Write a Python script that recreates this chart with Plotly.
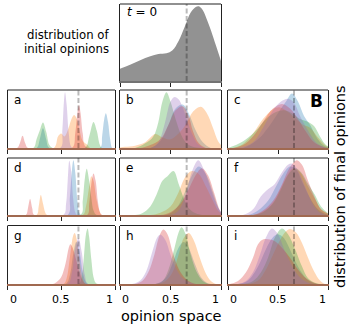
import plotly.graph_objects as go

W, H = 349, 324

# ---------------- data (heights as fraction of panel height) ----------------
INIT_X = [0.0, 0.1, 0.2, 0.3, 0.38, 0.46, 0.52, 0.58, 0.64, 0.70, 0.75, 0.78, 0.82, 0.86, 0.9, 0.95, 1.0]
INIT_Y = [0.16, 0.21, 0.27, 0.32, 0.35, 0.36, 0.40, 0.52, 0.70, 0.89, 0.96, 0.97, 0.92, 0.80, 0.66, 0.46, 0.26]

PANEL_A = [
    ("blue", [0, 0.27, 0.30, 0.33, 0.36, 0.39, 0.86, 0.88, 0.90, 0.915, 0.935, 0.955, 0.975, 1],
             [0, 0, 0.15, 0.34, 0.15, 0, 0, 0.2, 0.5, 0.6, 0.45, 0.15, 0, 0]),
    ("orange", [0, 0.43, 0.47, 0.50, 0.53, 0.56, 0.60, 0.62, 0.645, 0.67, 0.70, 0.74, 0.77, 1],
               [0, 0, 0.2, 0.25, 0.2, 0.3, 0.52, 0.57, 0.5, 0.3, 0.12, 0.06, 0, 0]),
    ("green", [0, 0.24, 0.27, 0.30, 0.33, 0.36, 0.39, 0.42, 0.72, 0.76, 0.80, 0.83, 0.86, 0.88, 1],
              [0, 0, 0.15, 0.3, 0.44, 0.28, 0.05, 0, 0, 0.2, 0.45, 0.3, 0.05, 0, 0]),
    ("red", [0, 0.09, 0.115, 0.14, 0.165, 0.19, 0.60, 0.63, 0.65, 0.665, 0.68, 0.70, 0.73, 1],
            [0, 0, 0.08, 0.21, 0.08, 0, 0, 0.25, 0.6, 0.74, 0.6, 0.25, 0.02, 0]),
    ("purple", [0, 0.49, 0.51, 0.525, 0.535, 0.55, 0.57, 0.59, 0.61, 1],
               [0, 0, 0.3, 0.8, 0.96, 0.75, 0.25, 0.03, 0, 0]),
]
PANEL_B = [
    ("blue", [0, 0.3, 0.4, 0.48, 0.55, 0.62, 0.68, 0.75, 0.82, 0.9, 1],
             [0, 0, 0.12, 0.4, 0.68, 0.75, 0.6, 0.3, 0.1, 0, 0]),
    ("orange", [0, 0.05, 0.15, 0.25, 0.35, 0.42, 0.5, 0.58, 0.65, 0.72, 0.80, 0.86, 0.92, 0.97, 1],
               [0.01, 0.02, 0.04, 0.1, 0.24, 0.18, 0.15, 0.25, 0.4, 0.62, 0.71, 0.6, 0.35, 0.12, 0.05]),
    ("green", [0, 0.15, 0.25, 0.33, 0.38, 0.42, 0.46, 0.50, 0.55, 0.60, 0.65, 0.72, 0.8, 1],
              [0, 0, 0.08, 0.2, 0.45, 0.8, 0.96, 0.8, 0.5, 0.25, 0.1, 0.02, 0, 0]),
    ("red", [0, 0.2, 0.3, 0.4, 0.48, 0.55, 0.62, 0.68, 0.72, 0.78, 0.85, 1],
            [0, 0, 0.05, 0.15, 0.4, 0.65, 0.72, 0.55, 0.3, 0.08, 0, 0]),
    ("purple", [0, 0.3, 0.38, 0.44, 0.50, 0.54, 0.58, 0.62, 0.67, 0.72, 0.77, 0.84, 1],
               [0, 0, 0.1, 0.4, 0.8, 0.88, 0.84, 0.7, 0.45, 0.22, 0.07, 0, 0]),
]
PANEL_C = [
    ("blue", [0, 0.15, 0.3, 0.4, 0.5, 0.58, 0.64, 0.7, 0.76, 0.82, 0.88, 0.95, 1],
             [0, 0, 0.15, 0.35, 0.6, 0.8, 0.94, 0.8, 0.55, 0.4, 0.2, 0.05, 0.01]),
    ("orange", [0, 0.05, 0.15, 0.25, 0.35, 0.45, 0.52, 0.6, 0.68, 0.75, 0.82, 0.9, 0.97, 1],
               [0, 0, 0.07, 0.25, 0.5, 0.67, 0.7, 0.62, 0.5, 0.4, 0.35, 0.18, 0.05, 0.02]),
    ("green", [0, 0.08, 0.18, 0.28, 0.38, 0.48, 0.56, 0.64, 0.72, 0.8, 0.86, 0.92, 0.97, 1],
              [0, 0.05, 0.15, 0.3, 0.5, 0.62, 0.65, 0.6, 0.5, 0.45, 0.38, 0.2, 0.07, 0.03]),
    ("red", [0, 0.05, 0.15, 0.25, 0.35, 0.45, 0.54, 0.62, 0.7, 0.78, 0.86, 0.95, 1],
            [0, 0, 0.05, 0.2, 0.45, 0.68, 0.76, 0.68, 0.5, 0.28, 0.1, 0.02, 0]),
    ("purple", [0, 0.1, 0.25, 0.35, 0.45, 0.53, 0.6, 0.66, 0.72, 0.8, 0.88, 0.95, 1],
               [0, 0, 0.1, 0.35, 0.65, 0.8, 0.85, 0.78, 0.55, 0.3, 0.1, 0.02, 0]),
]
PANEL_D = [
    ("blue", [0, 0.56, 0.58, 0.60, 0.613, 0.63, 0.65, 0.67, 0.69, 1],
             [0, 0, 0.3, 0.8, 0.96, 0.75, 0.25, 0.03, 0, 0]),
    ("orange", [0, 0.27, 0.29, 0.31, 0.33, 0.35, 0.37, 0.70, 0.73, 0.76, 0.78, 0.80, 0.83, 0.86, 0.88, 1],
               [0, 0, 0.15, 0.35, 0.2, 0.05, 0, 0, 0.15, 0.5, 0.68, 0.6, 0.25, 0.05, 0, 0]),
    ("green", [0, 0.68, 0.70, 0.72, 0.737, 0.76, 0.78, 0.80, 0.83, 1],
              [0, 0, 0.25, 0.65, 0.81, 0.6, 0.3, 0.08, 0, 0]),
    ("red", [0, 0.17, 0.19, 0.21, 0.23, 0.25, 0.74, 0.76, 0.78, 0.80, 0.82, 0.84, 0.86, 0.88, 1],
            [0, 0, 0.12, 0.28, 0.12, 0, 0, 0.2, 0.55, 0.73, 0.6, 0.25, 0.05, 0, 0]),
    ("purple", [0, 0.52, 0.545, 0.56, 0.575, 0.59, 0.61, 0.63, 0.65, 1],
               [0, 0, 0.2, 0.6, 0.95, 0.8, 0.3, 0.05, 0, 0]),
]
PANEL_E = [
    ("blue", [0, 0.45, 0.55, 0.63, 0.7, 0.78, 0.85, 0.92, 0.98, 1],
             [0, 0, 0.1, 0.35, 0.65, 0.85, 0.72, 0.4, 0.1, 0.05]),
    ("orange", [0, 0.3, 0.4, 0.5, 0.58, 0.64, 0.71, 0.78, 0.85, 0.92, 0.97, 1],
               [0, 0, 0.04, 0.15, 0.4, 0.65, 0.77, 0.72, 0.5, 0.25, 0.08, 0.03]),
    ("green", [0, 0.15, 0.22, 0.3, 0.36, 0.42, 0.47, 0.53, 0.58, 0.63, 0.68, 0.75, 0.82, 1],
              [0, 0, 0.03, 0.15, 0.35, 0.6, 0.68, 0.77, 0.55, 0.3, 0.12, 0.03, 0, 0]),
    ("red", [0, 0.4, 0.5, 0.6, 0.68, 0.75, 0.81, 0.87, 0.93, 0.98, 1],
            [0, 0, 0.05, 0.2, 0.45, 0.7, 0.82, 0.7, 0.4, 0.12, 0.05]),
    ("purple", [0, 0.5, 0.58, 0.65, 0.71, 0.775, 0.83, 0.89, 0.95, 1],
               [0, 0, 0.08, 0.35, 0.75, 0.96, 0.8, 0.5, 0.2, 0.05]),
]
PANEL_F = [
    ("blue", [0, 0.2, 0.3, 0.4, 0.48, 0.55, 0.62, 0.68, 0.75, 0.82, 0.9, 0.97, 1],
             [0, 0, 0.08, 0.25, 0.5, 0.72, 0.85, 0.8, 0.55, 0.3, 0.1, 0.02, 0]),
    ("orange", [0, 0.25, 0.35, 0.45, 0.53, 0.6, 0.65, 0.72, 0.8, 0.87, 0.93, 1],
               [0, 0, 0.06, 0.22, 0.48, 0.72, 0.82, 0.75, 0.5, 0.28, 0.1, 0.02]),
    ("green", [0, 0.25, 0.35, 0.45, 0.53, 0.6, 0.67, 0.73, 0.8, 0.87, 0.93, 1],
              [0, 0, 0.05, 0.2, 0.45, 0.7, 0.82, 0.75, 0.55, 0.35, 0.15, 0.03]),
    ("red", [0, 0.25, 0.35, 0.45, 0.53, 0.6, 0.66, 0.69, 0.74, 0.8, 0.87, 0.93, 1],
            [0, 0, 0.08, 0.25, 0.5, 0.78, 0.93, 0.96, 0.88, 0.6, 0.3, 0.1, 0.02]),
    ("purple", [0, 0.15, 0.25, 0.33, 0.4, 0.47, 0.54, 0.6, 0.64, 0.7, 0.77, 0.84, 0.9, 0.96, 1],
               [0, 0, 0.1, 0.33, 0.45, 0.55, 0.75, 0.88, 0.9, 0.78, 0.5, 0.22, 0.07, 0.01, 0]),
]
PANEL_G = [
    ("blue", [0, 0.54, 0.58, 0.61, 0.64, 0.67, 0.70, 0.73, 0.75, 1],
             [0, 0, 0.15, 0.5, 0.72, 0.55, 0.2, 0.03, 0, 0]),
    ("orange", [0, 0.52, 0.55, 0.58, 0.61, 0.625, 0.645, 0.67, 0.70, 0.73, 1],
               [0, 0, 0.1, 0.45, 0.82, 0.87, 0.75, 0.4, 0.1, 0, 0]),
    ("green", [0, 0.66, 0.69, 0.71, 0.73, 0.745, 0.76, 0.78, 0.80, 0.82, 0.84, 1],
              [0, 0, 0.12, 0.45, 0.85, 0.95, 0.8, 0.42, 0.12, 0.02, 0, 0]),
    ("red", [0, 0.42, 0.46, 0.5, 0.54, 0.57, 0.585, 0.61, 0.64, 0.67, 0.70, 0.73, 1],
            [0, 0, 0.04, 0.12, 0.35, 0.62, 0.68, 0.6, 0.4, 0.2, 0.06, 0, 0]),
    ("purple", [0, 0.56, 0.6, 0.63, 0.66, 0.69, 0.72, 0.75, 1],
               [0, 0, 0.2, 0.6, 0.78, 0.55, 0.15, 0, 0]),
]
PANEL_H = [
    ("blue", [0, 0.35, 0.45, 0.52, 0.58, 0.63, 0.68, 0.74, 0.8, 0.86, 0.9, 1],
             [0, 0, 0.1, 0.35, 0.62, 0.72, 0.62, 0.35, 0.12, 0.02, 0, 0]),
    ("orange", [0, 0.35, 0.45, 0.52, 0.58, 0.63, 0.68, 0.73, 0.79, 0.85, 0.9, 0.95, 1],
               [0, 0, 0.05, 0.2, 0.5, 0.78, 0.87, 0.75, 0.45, 0.18, 0.05, 0, 0]),
    ("green", [0, 0.35, 0.42, 0.48, 0.54, 0.58, 0.61, 0.65, 0.7, 0.76, 0.82, 0.88, 1],
              [0, 0, 0.05, 0.25, 0.62, 0.88, 0.97, 0.85, 0.5, 0.2, 0.05, 0, 0]),
    ("red", [0, 0.15, 0.22, 0.28, 0.34, 0.39, 0.43, 0.47, 0.52, 0.57, 0.62, 0.68, 0.75, 1],
            [0, 0, 0.05, 0.2, 0.5, 0.82, 0.93, 0.85, 0.55, 0.3, 0.15, 0.05, 0, 0]),
    ("purple", [0, 0.12, 0.2, 0.26, 0.32, 0.37, 0.40, 0.45, 0.5, 0.56, 0.62, 0.7, 0.75, 1],
               [0, 0, 0.06, 0.22, 0.55, 0.8, 0.84, 0.75, 0.5, 0.25, 0.1, 0.02, 0, 0]),
]
PANEL_I = [
    ("blue", [0, 0.1, 0.2, 0.3, 0.38, 0.45, 0.5, 0.56, 0.63, 0.7, 0.78, 0.85, 0.9, 1],
             [0, 0, 0.06, 0.3, 0.6, 0.8, 0.85, 0.78, 0.55, 0.3, 0.1, 0.02, 0, 0]),
    ("orange", [0, 0.2, 0.3, 0.38, 0.45, 0.52, 0.58, 0.62, 0.68, 0.74, 0.8, 0.86, 0.92, 0.97, 1],
               [0, 0, 0.06, 0.25, 0.5, 0.75, 0.9, 0.94, 0.88, 0.7, 0.45, 0.22, 0.06, 0, 0]),
    ("green", [0, 0.15, 0.25, 0.33, 0.4, 0.47, 0.54, 0.6, 0.67, 0.74, 0.8, 0.87, 0.92, 1],
              [0, 0, 0.05, 0.2, 0.45, 0.8, 0.95, 0.85, 0.6, 0.3, 0.1, 0.02, 0, 0]),
    ("red", [0, 0.02, 0.1, 0.18, 0.25, 0.3, 0.35, 0.42, 0.48, 0.55, 0.62, 0.7, 0.78, 0.86, 0.9, 1],
            [0, 0, 0.05, 0.2, 0.45, 0.68, 0.76, 0.76, 0.72, 0.6, 0.45, 0.25, 0.1, 0.02, 0, 0]),
    ("purple", [0, 0.1, 0.18, 0.25, 0.32, 0.38, 0.44, 0.5, 0.56, 0.63, 0.7, 0.78, 0.85, 1],
               [0, 0, 0.05, 0.2, 0.5, 0.8, 0.95, 0.85, 0.6, 0.35, 0.15, 0.04, 0, 0]),
]

PANELS = [PANEL_A, PANEL_B, PANEL_C, PANEL_D, PANEL_E, PANEL_F, PANEL_G, PANEL_H, PANEL_I]
PANEL_LABELS = ["a", "b", "c", "d", "e", "f", "g", "h", "i"]
TICK_VALS = [0, 0.5, 1]
TICK_TEXT = ["0", "0.5", "1"]
REF_OPINION = 0.66

# ---------------- style ----------------
COLORS = {
    "blue": (31, 119, 180), "orange": (255, 127, 14), "green": (44, 160, 44),
    "red": (214, 39, 40), "purple": (148, 103, 189),
}
ALPHA = 0.3
FONT = "DejaVu Sans"
SPINE = "#222222"
BASE = "rgb(160,105,80)"
GRAY = "rgb(146,146,146)"

COL_PX = [(7.5, 115), (120, 221), (228, 328)]
ROW_PX = [(90, 148), (158, 215), (225.5, 284)]
TOP_PX_X = (120, 221)
TOP_PX_Y = (4, 81)


def px_x(p):
    return p / W


def px_y(p):
    return 1 - p / H


fig = go.Figure()
layout = dict(
    width=W, height=H, margin=dict(l=0, r=0, t=0, b=0),
    paper_bgcolor="white", plot_bgcolor="white", showlegend=False,
    font=dict(family=FONT, color="black"),
)
shapes = []
annotations = []


def axis_pair(idx, xdom, ydom, baseline_color):
    sx = "" if idx == 1 else str(idx)
    layout["xaxis" + sx] = dict(
        domain=xdom, range=[0, 1], anchor="y" + sx, showgrid=False, zeroline=False,
        showline=True, linecolor=baseline_color, linewidth=1.5,
        ticks="outside", ticklen=4, tickwidth=1, tickcolor=SPINE,
        tickvals=TICK_VALS, showticklabels=False, fixedrange=True,
    )
    layout["yaxis" + sx] = dict(
        domain=ydom, range=[0, 1], anchor="x" + sx, showgrid=False, zeroline=False,
        showline=True, mirror=True, linecolor=SPINE, linewidth=1.2,
        ticks="", showticklabels=False, fixedrange=True,
    )
    shapes.append(dict(type="line", xref="x%s domain" % sx, yref="y%s domain" % sx,
                       x0=0, x1=1, y0=1, y1=1, line=dict(color=SPINE, width=1.2)))
    shapes.append(dict(type="line", xref="x" + sx, yref="y%s domain" % sx,
                       x0=REF_OPINION, x1=REF_OPINION, y0=0, y1=1,
                       line=dict(color="rgba(0,0,0,0.27)", width=2, dash="5px,2.5px")))
    return "x" + sx, "y" + sx


# top panel: initial opinions
xa, ya = axis_pair(1, [px_x(TOP_PX_X[0]), px_x(TOP_PX_X[1])],
                   [px_y(TOP_PX_Y[1]), px_y(TOP_PX_Y[0])], "rgb(115,115,115)")
fig.add_trace(go.Scatter(x=INIT_X, y=INIT_Y, mode="lines", fill="tozeroy",
                         line=dict(width=0, shape="spline", smoothing=1),
                         fillcolor=GRAY, xaxis=xa, yaxis=ya, hoverinfo="skip"))
annotations.append(dict(x=px_x(125), y=px_y(3), xref="paper", yref="paper",
                        xanchor="left", yanchor="top", showarrow=False,
                        text="<i>t</i> = 0", font=dict(size=12)))

for k, panel in enumerate(PANELS):
    r, c = divmod(k, 3)
    xdom = [px_x(COL_PX[c][0]), px_x(COL_PX[c][1])]
    ydom = [px_y(ROW_PX[r][1]), px_y(ROW_PX[r][0])]
    xa, ya = axis_pair(k + 2, xdom, ydom, BASE)
    for cname, xs, ys in panel:
        rr, gg, bb = COLORS[cname]
        fig.add_trace(go.Scatter(
            x=xs, y=ys, mode="lines", fill="tozeroy",
            line=dict(width=0, shape="spline", smoothing=1),
            fillcolor="rgba(%d,%d,%d,%.2f)" % (rr, gg, bb, ALPHA),
            xaxis=xa, yaxis=ya, hoverinfo="skip"))
    annotations.append(dict(x=px_x(COL_PX[c][0] + 4), y=px_y(ROW_PX[r][0] + 1),
                            xref="paper", yref="paper", xanchor="left", yanchor="top",
                            showarrow=False, text=PANEL_LABELS[k], font=dict(size=12)))
    if r == 2:
        for tv, tt in zip(TICK_VALS, TICK_TEXT):
            anchor = "left" if tv == 0 else ("right" if tv == 1 else "center")
            annotations.append(dict(x=tv, y=px_y(ROW_PX[r][1] + 7), xref=xa, yref="paper",
                                    xanchor=anchor, yanchor="top", showarrow=False,
                                    text=tt, font=dict(size=11)))

# texts
annotations += [
    dict(x=px_x(111), y=px_y(35), xref="paper", yref="paper", xanchor="right",
         yanchor="middle", showarrow=False, text="distribution of", font=dict(size=11.7)),
    dict(x=px_x(111), y=px_y(49), xref="paper", yref="paper", xanchor="right",
         yanchor="middle", showarrow=False, text="initial opinions", font=dict(size=11.7)),
    dict(x=px_x(171), y=px_y(316), xref="paper", yref="paper", xanchor="center",
         yanchor="middle", showarrow=False, text="opinion space", font=dict(size=14.5)),
    dict(x=px_x(340), y=px_y(187), xref="paper", yref="paper", xanchor="center",
         yanchor="middle", showarrow=False, textangle=-90,
         text="distribution of final opinions", font=dict(size=14.5)),
    dict(x=px_x(316), y=px_y(101), xref="paper", yref="paper", xanchor="center",
         yanchor="middle", showarrow=False, text="<b>B</b>", font=dict(size=17)),
]

layout["shapes"] = shapes
layout["annotations"] = annotations
fig.update_layout(**layout)
fig.write_html("out.html")
